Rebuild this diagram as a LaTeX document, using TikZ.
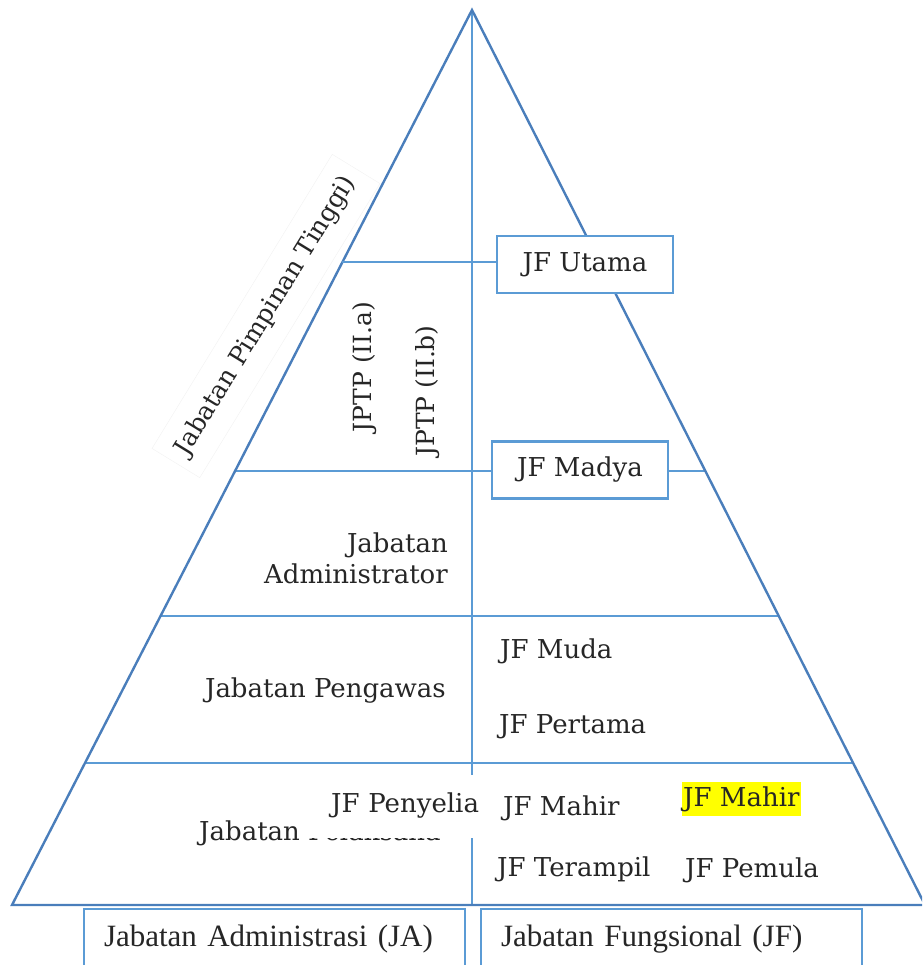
\documentclass[tikz,border=0pt]{standalone}
\usepackage{fontspec}
\setmainfont{DejaVu Serif}
\newfontfamily\narrowserif{Liberation Serif}
\usetikzlibrary{calc,positioning}
\definecolor{edgeblue}{HTML}{4A7EBB}
\definecolor{lineblue}{HTML}{5B9BD5}
\definecolor{hilite}{HTML}{FFFF00}
\tikzset{
  edge/.style={draw=edgeblue, line width=2.4pt},
  level/.style={draw=lineblue, line width=2.4pt},
  lbl/.style={font=\fontsize{26}{31}\selectfont, inner sep=0pt, text=black!85},
  sidelbl/.style={lbl, font=\fontsize{25}{30}\selectfont},
  jfbox/.style={lbl, draw=lineblue, line width=2.4pt, fill=white, minimum width=176pt, minimum height=57pt},
  footbox/.style={draw=lineblue, line width=2pt, fill=white, text width=341pt, align=left, inner xsep=20pt, minimum height=60pt, font=\narrowserif\fontsize{31}{34}\selectfont, text=black!85}
}
\begin{document}
\begin{tikzpicture}[x=1pt,y=-1pt]
  \useasboundingbox (0,0) rectangle (922,965);
  \clip (0,0) rectangle (922,965);
  % label along the left side
  \node[sidelbl, draw=black!5, fill=white, rotate=58.5, minimum width=345pt, minimum height=56pt] (jpt) at (266,316) {Jabatan Pimpinan Tinggi)};
  % pyramid
  \coordinate (apex) at (472,10);
  \coordinate (bl) at (12,905);
  \coordinate (br) at (925,905);
  \coordinate (bc) at (472,905);
  \coordinate (l1) at ($(apex)!0.2816!(bl)$);
  \coordinate (l2L) at ($(apex)!0.5151!(bl)$);
  \coordinate (l2R) at ($(apex)!0.5151!(br)$);
  \coordinate (l3L) at ($(apex)!0.6771!(bl)$);
  \coordinate (l3R) at ($(apex)!0.6771!(br)$);
  \coordinate (l4L) at ($(apex)!0.8413!(bl)$);
  \coordinate (l4R) at ($(apex)!0.8413!(br)$);
  \draw[level] (apex) -- (bc);
  \draw[level] (l2L) -- (l2R);
  \draw[level] (l3L) -- (l3R);
  \draw[level] (l4L) -- (l4R);
  \draw[edge] (apex) -- (bl) -- (br) -- cycle;
  % JF boxes on the levels
  \node[jfbox] (utama) at (585,264.5) {JF Utama};
  \node[jfbox] (madya) at (580,470) {JF Madya};
  \draw[level] (l1) -- (l1 -| utama.west);
  % labels
  \node[sidelbl, rotate=90] (iia) at (365,367) {JPTP (II.a)};
  \node[sidelbl, rotate=90] (iib) at (428,391) {JPTP (II.b)};
  \node[lbl, align=right, anchor=east] (adm) at (448,558) {Jabatan\\Administrator};
  \node[lbl, anchor=east] (pengawas) at (446,691) {Jabatan Pengawas};
  \node[lbl, anchor=west] (muda) at (500,651) {JF Muda};
  \node[lbl, anchor=west] (pertama) at (499,727) {JF Pertama};
  \node[lbl, anchor=west] (pelaksana) at (199,833) {Jabatan Pelaksana};
  \node[lbl, fill=white, text width=170pt, align=right, inner xsep=3pt, minimum height=63pt] (penyelia) at (394,806) {JF Penyelia};
  \node[lbl, anchor=west] (mahir) at (503,808) {JF Mahir};
  \node[lbl, fill=hilite, anchor=west, inner xsep=1pt, inner ysep=4pt] (mahirhl) at (682,799) {JF Mahir};
  \node[lbl, anchor=west] (terampil) at (497,869) {JF Terampil};
  \node[lbl, anchor=west] (pemula) at (685,870) {JF Pemula};
  % bottom groups
  \node[footbox] (ja) at (274.5,939) {Jabatan Administrasi (JA)};
  \node[footbox] (jf) at (671.5,939) {Jabatan Fungsional (JF)};
\end{tikzpicture}
\end{document}
